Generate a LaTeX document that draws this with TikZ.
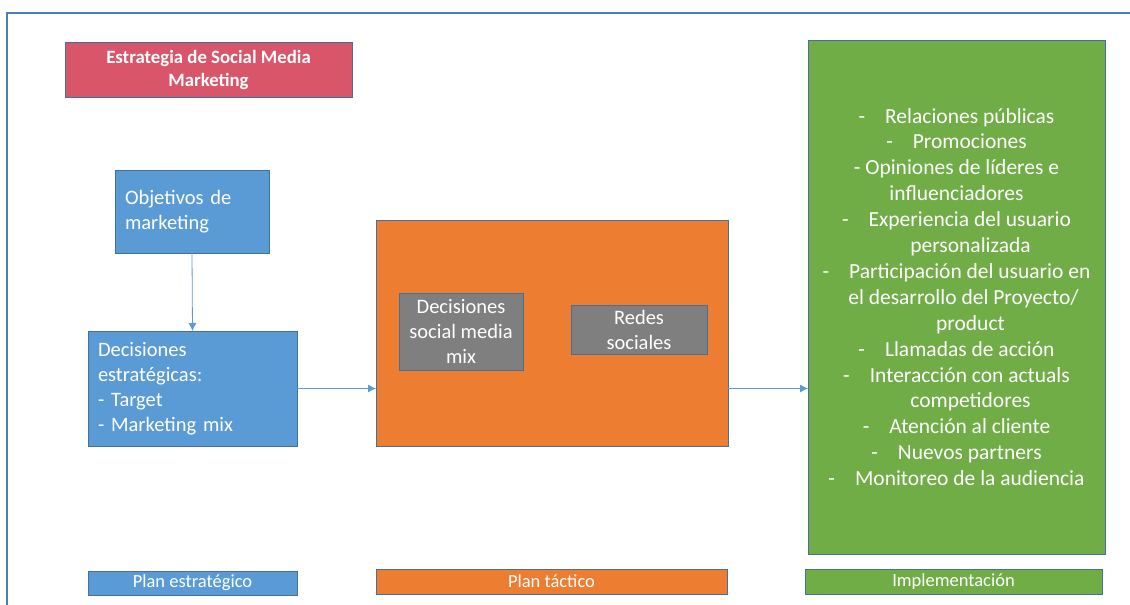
\documentclass[tikz,border=0pt]{standalone}
\usepackage{fontspec}
\setmainfont{Carlito}
\usetikzlibrary{arrows.meta}
\definecolor{boxred}{RGB}{217,86,106}
\definecolor{boxblue}{RGB}{91,155,213}
\definecolor{boxorange}{RGB}{237,125,49}
\definecolor{boxgray}{RGB}{127,127,127}
\definecolor{boxgreen}{RGB}{112,173,71}
\definecolor{boxedge}{RGB}{65,113,156}
\definecolor{linkblue}{RGB}{91,155,213}
\definecolor{framebl}{RGB}{74,126,187}

\begin{document}
\begin{tikzpicture}[x=1pt,y=-1pt,>={Latex[length=8pt,width=8pt]},
  main node/.style={rectangle,draw=boxedge,line width=0.9pt,text=white,inner sep=0pt,outer sep=0pt,
    anchor=north west,font=\fontsize{20.5}{25}\selectfont},
  label node/.style={main node,align=center,font=\fontsize{18.5}{20}\selectfont},
  link/.style={->,draw=linkblue,line width=0.8pt}]

  \useasboundingbox (0,0) rectangle (1130,605);
  \draw[framebl,line width=1.2pt] (7,605) -- (7,13) -- (1130,13);

  % plan estrategico
  \node[main node,fill=boxred,minimum width=287pt,minimum height=55pt,align=center,
    font=\bfseries\fontsize{18.8}{23}\selectfont] (Estrategia) at (65,42) {Estrategia de Social Media\\Marketing};
  \node[main node,fill=boxblue,minimum width=154pt,minimum height=83pt,text width=134pt,align=left]
    (Objetivos) at (115,170) {Objetivos de\\marketing};
  \node[main node,fill=boxblue,minimum width=209pt,minimum height=115pt,text width=189pt,align=left]
    (Decisiones) at (88,331) {Decisiones\\estratégicas:\\- Target\\- Marketing mix};

  % plan tactico
  \node[main node,fill=boxorange,minimum width=352pt,minimum height=226pt] (Tactico) at (376,220) {};
  \node[main node,fill=boxgray,minimum width=124pt,minimum height=77pt,align=center]
    (Mix) at (399,293) {Decisiones\\social media\\mix};
  \node[main node,fill=boxgray,minimum width=136pt,minimum height=49pt,align=center]
    (Redes) at (571,305) {Redes\\sociales};

  % implementacion
  \node[main node,fill=boxgreen,minimum width=297pt,minimum height=514pt,align=center,
    font=\fontsize{21.5}{25.9}\selectfont] (Implementacion) at (808,40) {%
    -\hspace{20pt}Relaciones públicas\\
    -\hspace{20pt}Promociones\\
    - Opiniones de líderes e\\
    influenciadores\\
    -\hspace{20pt}Experiencia del usuario\\
    \hspace*{28pt}personalizada\\
    -\hspace{20pt}Participación del usuario en\\
    \hspace*{14pt}el desarrollo del Proyecto/\\
    \hspace*{28pt}product\\
    -\hspace{20pt}Llamadas de acción\\
    -\hspace{20pt}Interacción con actuals\\
    \hspace*{28pt}competidores\\
    -\hspace{20pt}Atención al cliente\\
    -\hspace{20pt}Nuevos partners\\
    -\hspace{20pt}Monitoreo de la audiencia};

  % etiquetas
  \node[label node,fill=boxblue,minimum width=209pt,minimum height=24pt] (PlanE) at (88,571) {Plan estratégico};
  \node[label node,fill=boxorange,minimum width=351pt,minimum height=25pt] (PlanT) at (376,569) {Plan táctico};
  \node[label node,fill=boxgreen,minimum width=297pt,minimum height=25pt] (PlanI) at (805,569) {Implementación};

  \draw[link] (Objetivos.south) -- (Decisiones.north);
  \draw[link] (Decisiones.east) -- (Decisiones.east -| Tactico.west);
  \draw[link] (Tactico.east |- Decisiones.east) -- (Implementacion.west |- Decisiones.east);

\end{tikzpicture}
\end{document}
